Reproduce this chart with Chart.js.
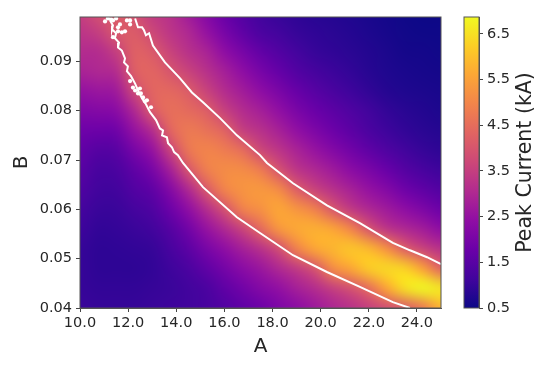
<!DOCTYPE html>
<html>
<head>
<meta charset="utf-8">
<script src="https://cdn.jsdelivr.net/npm/chart.js@4"></script>
<style>
  body { margin: 0; background: #fff; }
  canvas { position: absolute; top: 0; }
  #grafico { left: 0; }
  #barra { left: 444px; }
</style>
</head>
<body>
<canvas id="grafico" width="550" height="365"></canvas>
<canvas id="barra" width="106" height="365"></canvas>
<script>
const valoresA = [10, 10.75, 11.5, 12.25, 13, 13.75, 14.5, 15.25, 16, 16.75, 17.5, 18.25, 19, 19.75, 20.5, 21.25, 22, 22.75, 23.5, 24.25, 25];
const valoresB = [0.1, 0.096, 0.092, 0.088, 0.084, 0.08, 0.076, 0.072, 0.068, 0.064, 0.06, 0.056, 0.052, 0.048, 0.044, 0.04];

// peak current in kA, one row per B value, one column per A value
const corriente = [
    [3.5, 3.9, 4.15, 3.9, 3.4, 3.2, 2.7, 2.2, 1.75, 1.4, 1.15, 1.0, .9, .82, .78, .72, .65, .58, .52, .5, .5],
    [3.3, 3.5, 4.05, 4.15, 3.7, 3.3, 3.0, 2.5, 2.0, 1.6, 1.3, 1.15, 1.0, .92, .85, .78, .7, .62, .56, .52, .52],
    [3.1, 3.1, 3.5, 4.25, 4.1, 3.6, 3.2, 2.9, 2.4, 2.0, 1.65, 1.4, 1.18, 1.02, .93, .85, .77, .68, .6, .58, .55],
    [2.9, 3.0, 3.1, 4.2, 4.35, 4.0, 3.6, 3.2, 2.8, 2.4, 2.0, 1.7, 1.4, 1.22, 1.08, .95, .82, .72, .66, .62, .6],
    [2.5, 2.6, 2.7, 3.7, 4.35, 4.4, 4.15, 3.6, 3.1, 2.75, 2.4, 2.05, 1.72, 1.48, 1.28, 1.1, .94, .8, .72, .68, .65],
    [2.15, 2.2, 2.3, 3.0, 4.1, 4.55, 4.45, 4.2, 3.55, 3.1, 2.8, 2.45, 2.05, 1.78, 1.55, 1.35, 1.15, .97, .84, .77, .7],
    [1.85, 1.8, 1.85, 2.5, 3.1, 4.35, 4.75, 4.6, 4.3, 3.5, 3.2, 2.85, 2.45, 2.1, 1.8, 1.55, 1.3, 1.1, .95, .85, .8],
    [1.65, 1.45, 1.5, 2.0, 2.5, 3.6, 4.7, 4.95, 4.8, 4.5, 3.7, 3.3, 2.9, 2.55, 2.2, 1.9, 1.6, 1.35, 1.15, 1.0, .9],
    [1.5, 1.25, 1.3, 1.6, 2.0, 2.8, 4.0, 4.85, 5.1, 5.1, 4.8, 3.95, 3.3, 3.0, 2.7, 2.35, 2.05, 1.75, 1.45, 1.25, 1.1],
    [1.35, 1.15, 1.15, 1.4, 1.6, 2.2, 3.0, 4.05, 4.95, 5.25, 5.35, 5.1, 4.2, 3.6, 3.2, 2.85, 2.5, 2.2, 1.85, 1.6, 1.4],
    [1.2, 1.05, 1.05, 1.2, 1.35, 1.8, 2.4, 3.1, 3.9, 4.9, 5.2, 5.6, 5.3, 4.9, 4.05, 3.4, 3.0, 2.7, 2.4, 2.1, 1.8],
    [1.1, .95, .98, 1.05, 1.15, 1.45, 1.9, 2.5, 3.0, 3.6, 4.4, 5.3, 5.65, 5.75, 5.6, 5.0, 4.0, 3.3, 3.0, 2.75, 2.4],
    [1.0, .9, .92, .95, 1.0, 1.25, 1.55, 2.0, 2.4, 2.8, 3.2, 3.8, 4.9, 5.6, 5.85, 6.1, 5.9, 5.2, 4.2, 3.6, 3.2],
    [1.0, .9, .9, .9, .95, 1.1, 1.3, 1.6, 1.95, 2.3, 2.6, 3.0, 3.4, 3.95, 5.1, 5.6, 6.2, 6.4, 6.3, 5.5, 4.3],
    [1.0, .95, .95, .95, 1.0, 1.05, 1.15, 1.3, 1.6, 1.9, 2.2, 2.45, 2.8, 3.1, 3.5, 3.9, 4.5, 5.6, 6.5, 6.85, 6.6],
    [1.05, 1.0, 1.0, 1.0, 1.05, 1.1, 1.15, 1.25, 1.4, 1.6, 1.8, 2.1, 2.35, 2.65, 2.95, 3.2, 3.5, 3.8, 4.1, 4.7, 5.8]
];

// white contour, upper and lower branch, plus the loose islands near the top
const contornoSupA = [12.29, 12.41, 12.58, 12.66, 12.74, 12.87, 13.03, 13.53, 14.15, 14.65, 15.11, 15.82, 16.52, 17.48, 17.77, 18.85, 20.26, 21.63, 23.0, 23.71, 24.42, 25.0];
const contornoSupB = [.0987, .0969, .0969, .0963, .0953, .0957, .0932, .0898, .0866, .0837, .0817, .0785, .075, .071, .0694, .0653, .0608, .0572, .0532, .0517, .0503, .0489];
const contornoInfA = [11.25, 11.37, 11.33, 11.5, 11.45, 11.62, 11.58, 11.74, 11.87, 11.83, 11.99, 11.95, 12.12, 12.29, 12.45, 12.58, 12.74, 12.91, 13.16, 13.32, 13.45, 13.41, 13.61, 13.66, 13.82, 13.91, 14.07, 14.28, 15.11, 16.52, 17.48, 18.85, 20.26, 21.63, 23.0, 23.71];
const contornoInfB = [.0983, .0973, .0965, .0957, .0947, .0938, .0928, .0922, .0906, .0898, .089, .088, .087, .0855, .0837, .0825, .0813, .0797, .0781, .0764, .076, .075, .0746, .0734, .0726, .0716, .071, .0694, .0645, .0584, .0552, .0507, .0473, .0443, .0412, .04];
const islasA = [11.04, 11.16, 11.37, 11.58, 11.74, 11.37, 11.87, 11.95, 12.08, 12.08, 12.2, 12.41, 12.62, 12.78, 12.95, 12.49, 11.5, 11.29, 11.66, 11.58, 12.29, 12.53, 12.7, 12.08];
const islasB = [.0981, .0987, .0983, .0969, .0959, .0949, .0961, .0983, .0983, .086, .0847, .0835, .0827, .0821, .0807, .0845, .0987, .0985, .0975, .0961, .0841, .0835, .0819, .0975];

const ticksA = [10, 12, 14, 16, 18, 20, 22, 24];
const ticksB = [0.04, 0.05, 0.06, 0.07, 0.08, 0.09];
const ticksBarra = [0.5, 1.5, 2.5, 3.5, 4.5, 5.5, 6.5];

const minBarra = 0.5;
const maxBarra = 6.87;
const plasma = ['#0d0887', '#41049d', '#6a00a8', '#8f0da4', '#b12a90', '#cc4778', '#e16462', '#f2844b', '#fca636', '#fcce25', '#f0f921'];

const colorTexto = '#262626';
const fuente = 'DejaVu Sans';

function hexRgb(h) {
    return [1, 3, 5].map(i => parseInt(h.slice(i, i + 2), 16));
}

function colorDe(v) {
    const t = Math.min(Math.max((v - minBarra) / (maxBarra - minBarra), 0), 1) * (plasma.length - 1);
    const i = Math.min(Math.floor(t), plasma.length - 2);
    const a = hexRgb(plasma[i]);
    const b = hexRgb(plasma[i + 1]);
    return a.map((c, k) => Math.round(c + (b[k] - c) * (t - i)));
}

// the heatmap: one pixel per cell in a small canvas, stretched between the scale positions
const mapaCalor = {
    id: 'mapaCalor',
    beforeDatasetsDraw(chart) {
        const { ctx, chartArea, scales } = chart;
        const w = valoresA.length;
        const h = valoresB.length;
        const off = document.createElement('canvas');
        off.width = w;
        off.height = h;
        const octx = off.getContext('2d');
        const img = octx.createImageData(w, h);
        corriente.forEach((fila, j) => {
            fila.forEach((v, i) => {
                const c = colorDe(v);
                const p = (j * w + i) * 4;
                img.data[p] = c[0];
                img.data[p + 1] = c[1];
                img.data[p + 2] = c[2];
                img.data[p + 3] = 255;
            });
        });
        octx.putImageData(img, 0, 0);
        const x0 = scales.x.getPixelForValue(valoresA[0]);
        const x1 = scales.x.getPixelForValue(valoresA[w - 1]);
        const y0 = scales.y.getPixelForValue(valoresB[0]);
        const y1 = scales.y.getPixelForValue(valoresB[h - 1]);
        ctx.save();
        ctx.beginPath();
        ctx.rect(chartArea.left, chartArea.top, chartArea.width, chartArea.height);
        ctx.clip();
        ctx.imageSmoothingEnabled = true;
        ctx.imageSmoothingQuality = 'high';
        ctx.drawImage(off, 0.5, 0.5, w - 1, h - 1, x0, y0, x1 - x0, y1 - y0);
        ctx.restore();
    }
};

const marco = {
    id: 'marco',
    afterDatasetsDraw(chart) {
        const { ctx, chartArea } = chart;
        ctx.save();
        ctx.strokeStyle = '#555';
        ctx.lineWidth = 1;
        ctx.strokeRect(chartArea.left, chartArea.top, chartArea.width, chartArea.height);
        ctx.restore();
    }
};

function puntos(xs, ys) {
    return xs.map((x, i) => ({ x: x, y: ys[i] }));
}

new Chart(document.getElementById('grafico'), {
    type: 'scatter',
    data: {
        datasets: [
            { type: 'line', data: puntos(contornoSupA, contornoSupB), borderColor: '#fff', borderWidth: 2, pointRadius: 0, fill: false },
            { type: 'line', data: puntos(contornoInfA, contornoInfB), borderColor: '#fff', borderWidth: 2, pointRadius: 0, fill: false },
            { data: puntos(islasA, islasB), backgroundColor: '#fff', borderWidth: 0, pointRadius: 2.1 }
        ]
    },
    plugins: [mapaCalor, marco],
    options: {
        responsive: false,
        animation: false,
        layout: { padding: { top: 17, right: 109, left: 0, bottom: 0 } },
        plugins: { legend: { display: false }, tooltip: { enabled: false } },
        scales: {
            x: {
                type: 'linear',
                min: 10,
                max: 25,
                afterFit: s => { s.height = 57; },
                afterBuildTicks: s => { s.ticks = ticksA.map(v => ({ value: v })); },
                grid: { drawOnChartArea: false, color: '#444', tickLength: 4 },
                border: { color: '#555' },
                ticks: {
                    color: colorTexto,
                    font: { family: fuente, size: 14.5 },
                    padding: 3,
                    autoSkip: false,
                    maxRotation: 0,
                    callback: v => v.toFixed(1)
                },
                title: { display: true, text: 'A', color: colorTexto, font: { family: fuente, size: 20 }, padding: { top: 0, bottom: 6 } }
            },
            y: {
                type: 'linear',
                min: 0.04,
                max: 0.099,
                afterFit: s => { s.width = 80; },
                afterBuildTicks: s => { s.ticks = ticksB.map(v => ({ value: v })); },
                grid: { drawOnChartArea: false, color: '#444', tickLength: 4 },
                border: { color: '#555' },
                ticks: {
                    color: colorTexto,
                    font: { family: fuente, size: 14.5 },
                    padding: 4,
                    autoSkip: false,
                    callback: v => v.toFixed(2)
                },
                title: { display: true, text: 'B', color: colorTexto, font: { family: fuente, size: 20 }, padding: { top: 10, bottom: 0 } }
            }
        }
    }
});

// right axis title has to read bottom to top, Chart.js would turn it the other way
const tituloBarra = {
    id: 'tituloBarra',
    afterDraw(chart) {
        const { ctx, chartArea } = chart;
        ctx.save();
        ctx.translate(82, (chartArea.top + chartArea.bottom) / 2);
        ctx.rotate(-Math.PI / 2);
        ctx.fillStyle = colorTexto;
        ctx.font = '20.5px "DejaVu Sans"';
        ctx.textAlign = 'center';
        ctx.textBaseline = 'middle';
        ctx.fillText('Peak Current (kA)', 0, 0);
        ctx.restore();
    }
};

function gradienteBarra(context) {
    const { chart } = context;
    if (!chart.chartArea) return plasma[0];
    const y = chart.scales.y;
    const g = chart.ctx.createLinearGradient(0, y.getPixelForValue(minBarra), 0, y.getPixelForValue(maxBarra));
    plasma.forEach((c, i) => g.addColorStop(i / (plasma.length - 1), c));
    return g;
}

new Chart(document.getElementById('barra'), {
    type: 'bar',
    data: {
        labels: ['Peak Current (kA)'],
        datasets: [{
            data: [[minBarra, maxBarra]],
            backgroundColor: gradienteBarra,
            barPercentage: 1,
            categoryPercentage: 1,
            borderSkipped: false
        }]
    },
    plugins: [marco, tituloBarra],
    options: {
        responsive: false,
        animation: false,
        layout: { padding: { top: 17, left: 20, right: 0, bottom: 57 } },
        plugins: { legend: { display: false }, tooltip: { enabled: false } },
        scales: {
            x: { display: false },
            y: {
                position: 'right',
                min: minBarra,
                max: maxBarra,
                afterFit: s => { s.width = 71; },
                afterBuildTicks: s => { s.ticks = ticksBarra.map(v => ({ value: v })); },
                grid: { drawOnChartArea: false, color: '#444', tickLength: 4 },
                border: { color: '#555' },
                ticks: {
                    color: colorTexto,
                    font: { family: fuente, size: 14.5 },
                    padding: 4,
                    autoSkip: false,
                    callback: v => v.toFixed(1)
                }
            }
        }
    }
});
</script>
</body>
</html>
